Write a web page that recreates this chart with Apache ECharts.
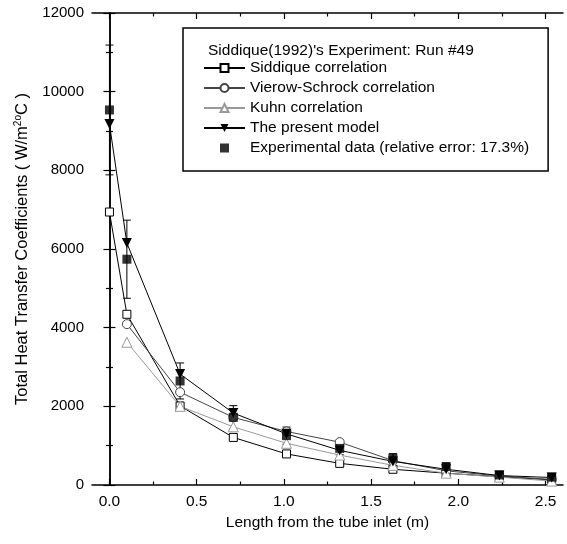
<!DOCTYPE html>
<html>
<head>
<meta charset="utf-8">
<script src="https://cdn.jsdelivr.net/npm/echarts@6/dist/echarts.min.js"></script>
<style>
  html, body { margin: 0; padding: 0; background: #fff; }
  #chart { width: 567px; height: 544px; }
</style>
</head>
<body>
<div id="chart"></div>
<script>
// Axial positions along the tube (m)
const lengthAxial = [0.0, 0.10, 0.405, 0.71, 1.015, 1.32, 1.625, 1.93, 2.235, 2.535];

// Heat transfer coefficients (W/m2 C)
const siddique      = [6940, 4340, 2010, 1210, 790, 550, 400, 300, 210, 130];
const vierowSchrock = [null, 4090, 2360, 1720, 1360, 1090, 620, 360, 230, 140];
const kuhn          = [null, 3630, 2000, 1480, 1060, 760, 500, 300, 200, 100];
const presentModel  = [9180, 6150, 2820, 1830, 1300, 880, 600, 400, 240, 190];
const experimental  = [9535, 5740, 2645, 1720, 1255, 930, 680, 470, 255, 200];
const relativeError = 0.173;

const xTickValues = [0.0, 0.5, 1.0, 1.5, 2.0, 2.5];
const xMinorTickValues = [0.25, 0.75, 1.25, 1.75, 2.25];

const FONT = '"Liberation Sans", Arial, Helvetica, sans-serif';

const pairs = arr => lengthAxial.map((x, i) => [x, arr[i]]).filter(p => p[1] != null);
const errorBars = lengthAxial.map((x, i) => [x, experimental[i] * (1 - relativeError), experimental[i] * (1 + relativeError)]);

const chart = echarts.init(document.getElementById('chart'), null, { renderer: 'canvas' });

const axisLineStyle = { show: true, lineStyle: { color: '#000', width: 1.5 } };

function xAxisDef(position, ticks, len, withLabels, showLine) {
  return {
    type: 'value', position: position, min: -0.1, max: 2.6,
    axisLine: showLine ? axisLineStyle : { show: false },
    splitLine: { show: false },
    axisTick: { show: true, inside: true, length: len, customValues: ticks, lineStyle: { color: '#000', width: 1.2 } },
    axisLabel: withLabels ? {
      show: true, customValues: ticks, margin: 9, color: '#000', fontSize: 15.5, fontFamily: FONT,
      formatter: v => v.toFixed(1)
    } : { show: false },
    name: withLabels ? 'Length from the tube inlet (m)' : '',
    nameLocation: 'middle', nameGap: 30,
    nameTextStyle: { color: '#000', fontSize: 15.5, fontFamily: FONT }
  };
}

function yAxisDef(position, withLabels) {
  return {
    type: 'value', position: position, min: 0, max: 12000, interval: 2000,
    axisLine: axisLineStyle,
    splitLine: { show: false },
    axisTick: { show: true, inside: true, length: 6, lineStyle: { color: '#000', width: 1.2 } },
    minorTick: { show: true, splitNumber: 2, length: 3.5, lineStyle: { color: '#000', width: 1.2 } },
    axisLabel: withLabels ? {
      show: true, margin: 8, color: '#000', fontSize: 15, fontFamily: FONT,
      formatter: v => String(v)
    } : { show: false },
    name: withLabels ? 'Total Heat Transfer Coefficients ( W/m{sup|2o}C )' : '',
    nameLocation: 'middle', nameGap: 61, nameRotate: 90,
    nameTextStyle: {
      color: '#000', fontSize: 16.5, fontFamily: FONT,
      rich: { sup: { fontSize: 10, fontFamily: FONT, color: '#000', verticalAlign: 'top', padding: [0, 0, 8, 0] } }
    }
  };
}

const option = {
  backgroundColor: '#fff',
  animation: false,
  grid: { left: 92, right: 4, top: 13, bottom: 59, containLabel: false },
  title: {
    text: "Siddique(1992)'s Experiment: Run #49",
    left: 203, top: 38,
    textStyle: { color: '#000', fontSize: 15.5, fontWeight: 'normal', fontFamily: FONT }
  },
  legend: {
    orient: 'vertical',
    left: 183, top: 28,
    padding: [32, 19, 15, 20],
    borderColor: '#000', borderWidth: 1.5,
    itemWidth: 41, itemHeight: 10, itemGap: 4,
    textStyle: { color: '#000', fontSize: 15.5, fontFamily: FONT },
    data: [
      'Siddique correlation', 'Vierow-Schrock correlation', 'Kuhn correlation', 'The present model',
      { name: 'Experimental data (relative error: 17.3%)', icon: 'path://M0,0L0,0M41,10L41,10M16,0.5H25V9.5H16Z' }
    ]
  },
  xAxis: [
    xAxisDef('bottom', xTickValues, 6, true, true),
    xAxisDef('bottom', xMinorTickValues, 3.5, false, false),
    xAxisDef('top', xTickValues, 6, false, true),
    xAxisDef('top', xMinorTickValues, 3.5, false, false)
  ],
  yAxis: [yAxisDef('left', true), yAxisDef('right', false)],
  series: [
    {
      name: 'Siddique correlation', type: 'line', data: pairs(siddique),
      symbol: 'rect', symbolSize: 8,
      itemStyle: { color: '#fff', borderColor: '#000', borderWidth: 1 },
      lineStyle: { color: '#000', width: 1 }
    },
    {
      name: 'Vierow-Schrock correlation', type: 'line', data: pairs(vierowSchrock),
      symbol: 'circle', symbolSize: 9,
      itemStyle: { color: '#fff', borderColor: '#444', borderWidth: 1 },
      lineStyle: { color: '#444', width: 1 }
    },
    {
      name: 'Kuhn correlation', type: 'line', data: pairs(kuhn),
      symbol: 'triangle', symbolSize: 10,
      itemStyle: { color: '#fff', borderColor: '#999', borderWidth: 1 },
      lineStyle: { color: '#999', width: 1 }
    },
    {
      name: 'The present model', type: 'line', data: pairs(presentModel),
      symbol: 'triangle', symbolRotate: 180, symbolSize: 10,
      itemStyle: { color: '#000' },
      lineStyle: { color: '#000', width: 1 }
    },
    {
      name: 'Experimental data (relative error: 17.3%)', type: 'scatter', data: pairs(experimental),
      symbol: 'rect', symbolSize: 9,
      itemStyle: { color: '#000' },
      z: 4
    },
    {
      name: 'error', type: 'custom', data: errorBars, z: 3,
      renderItem: function (params, api) {
        const x = api.value(0);
        const lo = api.coord([x, api.value(1)]);
        const hi = api.coord([x, api.value(2)]);
        const cap = 4;
        const style = { stroke: '#000', lineWidth: 1 };
        return {
          type: 'group',
          children: [
            { type: 'line', shape: { x1: lo[0], y1: lo[1], x2: hi[0], y2: hi[1] }, style: style },
            { type: 'line', shape: { x1: hi[0] - cap, y1: hi[1], x2: hi[0] + cap, y2: hi[1] }, style: style },
            { type: 'line', shape: { x1: lo[0] - cap, y1: lo[1], x2: lo[0] + cap, y2: lo[1] }, style: style }
          ]
        };
      }
    }
  ]
};

chart.setOption(option);
</script>
</body>
</html>
